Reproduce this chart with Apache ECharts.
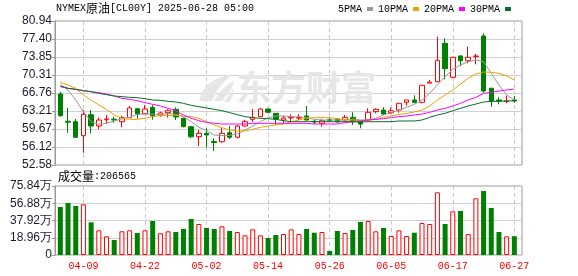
<!DOCTYPE html>
<html><head><meta charset="utf-8">
<script src="https://cdn.jsdelivr.net/npm/echarts@6/dist/echarts.min.js"></script>
<style>html,body{margin:0;padding:0;background:#fff}#c{width:578px;height:276px}</style>
</head><body><div id="c"></div>
<script>
const dates = ['04-04','04-07','04-08','04-09','04-10','04-11','04-14','04-15','04-16','04-17','04-21','04-22','04-23','04-24','04-25','04-28','04-29','04-30','05-01','05-02','05-05','05-06','05-07','05-08','05-09','05-12','05-13','05-14','05-15','05-16','05-19','05-20','05-21','05-22','05-23','05-26','05-27','05-28','05-29','05-30','06-02','06-03','06-04','06-05','06-06','06-09','06-10','06-11','06-12','06-13','06-16','06-17','06-18','06-19','06-20','06-23','06-24','06-25','06-26','06-27'];
const opens = [66.56,61.2,61.11,58.35,62.49,60.26,61.5,61.6,61.11,61.9, 63.67,62.68,63.94,62.37,62.88,63.55,61.78,60.12,58.15,58.82, 57.2,57.17,58.94,58.04,60.26,61.58,62.09,63.61,62.76,61.44, 61.85,61.8,62.23,61.2,60.79,61.5,61.64,61.44,61.97,61.11, 61.44,63.08,63.41,62.88,63.41,64.93,65.38,64.93,68.7,68.98, 76.55,69.85,74.05,73.12,73.95,77.99,67.69,65.38,65.1,65.38];
const closes = [62.29,61.0,58.04,62.56,60.26,61.44,61.65,61.45,61.9,63.81, 62.62,63.61,62.29,62.82,63.27,62.03,60.12,58.15,58.82,58.49, 57.0,58.82,58.04,60.26,61.11,61.97,63.61,62.96,61.64,61.84, 61.95,61.9,61.44,61.05,61.3,61.35,61.11,61.97,61.11,60.65, 62.96,63.55,62.62,63.27,64.73,65.38,64.93,68.28,68.9,73.2, 71.55,73.79,73.12,73.79,74.05,67.15,65.18,65.2,65.2,65.18];
const lows = [62.09,58.94,57.9,55.0,58.82,59.61,60.79,60.91,60.0,61.9, 61.7,62.6,61.5,62.1,61.9,61.44,60.0,57.84,56.32,56.07, 55.34,56.97,57.7,57.84,60.12,61.11,61.97,62.9,60.46,60.79, 61.11,61.44,61.3,60.65,60.12,61.11,60.79,61.11,60.46,59.81, 61.3,62.76,62.43,62.62,62.88,64.26,64.73,64.73,68.67,68.9, 69.46,69.65,72.08,72.61,72.4,66.82,64.06,64.53,64.73,64.85];
const highs = [67.02,63.86,61.64,63.41,63.41,61.9,62.43,62.09,62.29,64.2, 63.8,64.4,64.4,63.08,63.55,63.94,61.9,60.26,59.47,59.81, 57.84,60.0,60.26,60.46,61.44,63.61,63.75,63.65,62.8,62.29, 62.56,62.56,64.2,61.44,61.64,61.97,61.7,62.43,62.96,61.2, 63.75,63.75,63.94,63.94,64.8,65.4,66.31,68.3,69.32,77.85, 77.53,73.85,74.25,75.88,74.45,78.52,67.8,65.91,66.23,66.17];
const ma5 = [68.47,67.35,65.38,63.08,61.11,60.59,60.79,61.25,61.64,61.97, 62.56,62.62,62.62,62.49,62.75,62.56,62.10,61.11,60.00,59.34, 58.49,58.36,58.42,58.69,59.47,60.26,61.11,61.90,62.23,62.23, 62.10,62.10,61.90,61.57,61.44,61.44,61.44,61.44,61.64,61.44, 61.44,61.77,62.43,62.89,63.41,63.94,64.53,65.38,66.69,68.34, 69.98,71.42,72.27,72.93,73.26,72.93,70.63,68.34,66.37,65.38];
const ma10 = [68.86,68.34,67.68,66.37,65.38,64.40,63.54,62.43,61.77,61.57, 61.57,61.77,62.10,62.30,62.30,62.36,62.23,62.10,61.77,61.11, 60.46,59.93,59.47,59.28,59.28,59.60,60.00,60.26,60.46,60.65, 61.11,61.44,61.77,61.90,61.90,61.90,61.70,61.44,61.44,61.31, 61.44,61.57,61.97,62.23,62.56,62.75,63.02,63.41,64.20,65.38, 66.37,67.35,68.53,69.65,70.50,70.90,70.83,70.63,70.11,69.32];
const ma20 = [68.01,67.68,67.48,67.22,67.02,66.83,66.56,66.17,65.71,65.51, 65.25,64.86,64.53,64.20,63.74,63.28,62.43,61.77,61.31,60.98, 60.79,60.65,60.65,60.65,60.65,60.79,60.79,60.79,60.79,60.79, 60.79,60.79,60.79,60.65,60.65,60.65,60.65,60.92,61.11,61.25, 61.44,61.57,61.70,61.90,62.10,62.23,62.43,62.62,62.95,63.41, 63.74,64.20,64.72,65.38,65.91,66.69,66.89,67.15,67.35,67.55];
const ma30 = [68.14,67.68,67.48,67.22,67.02,66.69,66.43,66.17,66.04,65.91, 65.84,65.64,65.38,65.32,65.12,64.99,64.72,64.33,64.07,63.81, 63.54,63.28,62.89,62.49,62.10,61.90,61.77,61.70,61.57,61.31, 61.11,61.11,61.11,61.11,61.11,61.11,61.11,61.11,61.11,61.05, 61.11,61.11,61.11,61.11,61.25,61.25,61.25,61.44,61.97,62.43, 62.75,63.28,63.74,64.20,64.59,64.99,65.12,65.12,65.18,65.25];
const volumes = [52.76,57.15,53.86,55.69,35.91,27.11,20.52,16.49,26.02,27.11, 24.18,27.11,37.37,23.82,26.02,25.28,28.58,39.57,34.07,29.68, 28.58,31.51,26.38,25.28,21.62,28.21,21.62,18.68,21.98,23.08, 28.21,23.1,28.6,24.5,25.3,4.4,26.4,24.2,27.5,36.3, 37.4,26.0,29.7,20.9,27.1,20.9,24.5,35.2,34.1,68.9, 34.1,48.0,48.4,23.1,62.3,70.3,51.7,25.3,20.5,20.66];
const priceTicks = ['52.58','56.12','59.67','63.21','66.76','70.31','73.85','77.40','80.94'];
const volTicks = ['0','18.96万','37.92万','56.88万','75.84万'];
const maNames = ['5PMA','10PMA','20PMA','30PMA'];

const UP = '#ff0000', DOWN = '#008000';
const MONO = '"Liberation Mono","DejaVu Sans Mono",monospace';
const CJK = '"Noto Sans CJK SC"';
const showIdx = (i) => i % 8 === 3;

const chart = echarts.init(document.getElementById('c'), null, {renderer: 'canvas'});
const kData = dates.map((d, i) => [opens[i], closes[i], lows[i], highs[i]]);
const volData = volumes.map((v, i) => ({
  value: v,
  itemStyle: closes[i] >= opens[i]
    ? {color: '#fff', borderColor: UP, borderWidth: 1}
    : {color: DOWN, borderColor: DOWN, borderWidth: 0}
}));
const maColors = ['#999999', '#f0a000', '#ff00ff', '#006f2a'];
const maData = [ma5, ma10, ma20, ma30];

const frameY = (labels, max) => ({
  min: 0, max: max, interval: 1,
  axisLine: {show: true, lineStyle: {color: '#999'}},
  axisTick: {show: true, length: 3, lineStyle: {color: '#999'}},
  axisLabel: {formatter: v => labels[Math.round(v)], color: '#1a1a2e', fontSize: 12,
              fontFamily: '"Liberation Sans",Arial,sans-serif', margin: 3},
  splitLine: {show: true, lineStyle: {color: '#d0d0d0', width: 1}}
});

const richStyle = {
  a: {fontFamily: MONO, fontSize: 10, color: '#000', fontWeight: 'normal'},
  b: {fontFamily: CJK, fontSize: 12, color: '#000', fontWeight: 'normal'}
};
const wm = '#e6e6e6';
chart.setOption({
  animation: false,
  title: [
    {text: '{a|NYMEX}{b|原油}{a|[CL00Y] 2025-06-28 05:00}', left: 56, top: 2, padding: 0,
     textStyle: {fontWeight: 'normal', rich: richStyle}},
    {text: '{b|成交量}{a|:206565}', left: 58, top: 170, padding: 0,
     textStyle: {fontWeight: 'normal', rich: richStyle}}
  ],
  legend: {
    data: maNames, left: 338, top: 4, padding: 0, icon: 'rect', itemWidth: 6, itemHeight: 4,
    itemGap: 5, align: 'right', selectedMode: false,
    textStyle: {fontFamily: MONO, fontSize: 10, color: '#000'}
  },
  grid: [
    {left: 55, top: 21, width: 467, height: 144, show: true, borderColor: '#999', borderWidth: 1, backgroundColor: 'transparent'},
    {left: 56.5, top: 21, width: 461.7, height: 144},
    {left: 55, top: 186, width: 467, height: 69, show: true, borderColor: '#999', borderWidth: 1, backgroundColor: 'transparent'},
    {left: 56.5, top: 186, width: 461.7, height: 69}
  ],
  xAxis: [
    {gridIndex: 0, type: 'value', min: 0, max: 1, show: false},
    {gridIndex: 1, type: 'category', data: dates, boundaryGap: true,
     axisLine: {show: false}, axisTick: {show: false}, axisLabel: {show: false},
     splitLine: {show: true, interval: showIdx, alignWithLabel: true, lineStyle: {color: '#c8c8c8', type: [4, 3]}}},
    {gridIndex: 2, type: 'value', min: 0, max: 1, show: false},
    {gridIndex: 3, type: 'category', data: dates, boundaryGap: true,
     axisLine: {show: false}, axisTick: {show: false},
     axisLabel: {show: true, interval: showIdx, color: '#ff0000', fontFamily: MONO, fontSize: 10, margin: 6},
     splitLine: {show: true, interval: showIdx, alignWithLabel: true, lineStyle: {color: '#c8c8c8', type: [4, 3]}}}
  ],
  yAxis: [
    Object.assign({gridIndex: 0, type: 'value'}, frameY(priceTicks, 8)),
    {gridIndex: 1, type: 'value', min: 52.58, max: 80.94, show: false},
    Object.assign({gridIndex: 2, type: 'value'}, frameY(volTicks, 4)),
    {gridIndex: 3, type: 'value', min: 0, max: 75.84, show: false}
  ],
  graphic: [
    {type: 'text', left: 236, top: 70, z: 1, silent: true,
     style: {text: '东方财富', font: 'bold 35px "Noto Sans CJK SC"', fill: wm}},
    {type: 'polygon', z: 1, silent: true,
     shape: {points: [[199,101],[202,92],[208,84],[216,79],[225,76],[233,74],[225,81],[218,89],[212,101]]}, style: {fill: wm}},
    {type: 'polygon', z: 1, silent: true,
     shape: {points: [[214,101],[219,93],[226,86],[234,80],[232,88],[227,95],[222,101]]}, style: {fill: wm}},
    {type: 'polygon', z: 1, silent: true,
     shape: {points: [[224,102],[229,95],[234,88],[233,96],[229,102]]}, style: {fill: wm}}
  ],
  series: [
    {type: 'candlestick', name: 'K', xAxisIndex: 1, yAxisIndex: 1, data: kData, barWidth: 5,
     itemStyle: {color: '#fff', color0: DOWN, borderColor: UP, borderColor0: DOWN, borderWidth: 1}},
    ...maNames.map((n, k) => ({
      type: 'line', name: n, xAxisIndex: 1, yAxisIndex: 1, data: maData[k], showSymbol: false,
      symbol: 'none', color: maColors[k], itemStyle: {color: maColors[k]},
      lineStyle: {width: 1, color: maColors[k]}
    })),
    {type: 'bar', name: 'VOL', xAxisIndex: 3, yAxisIndex: 3, data: volData, barWidth: 5}
  ]
});
</script>
</body></html>
